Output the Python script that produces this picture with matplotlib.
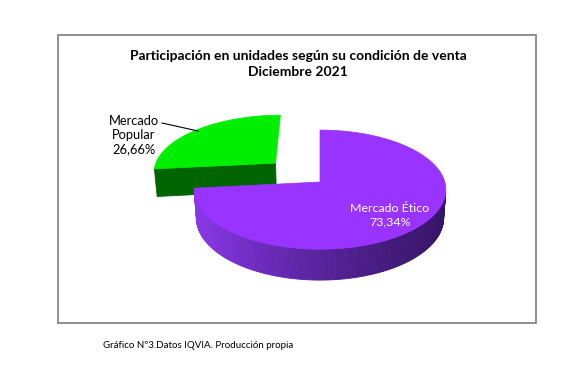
import numpy as np
import matplotlib
matplotlib.use('Agg')
import matplotlib.pyplot as plt
from matplotlib.patches import Polygon, Rectangle

plt.rcParams['font.family'] = ['Lato', 'DejaVu Sans']

# data
labels = ['Mercado\nPopular', 'Mercado Ético']
values = [26.66, 73.34]
title = 'Participación en unidades según su condición de venta\nDiciembre 2021'
footer = 'Gráfico Nº3.Datos IQVIA. Producción propia'

top_cols = ['#00EE00', '#9933FF']

# simple perspective camera for the 3D pie
elev = np.radians(28)
ce, se = np.cos(elev), np.sin(elev)
L = 6.89
F = 860.
ox, oy = 320., 182.
h = 0.26
explode = [0.5, 0.0]


def proj(X, Y, Z):
    d = ce * Y - se * Z + L
    return ox + F * X / d, oy - F * (se * Y + ce * Z) / d


cam = np.array([0., -L * ce, L * se])


def facing(p, n):
    return np.dot(n, cam - p) > 0


def side_col(i, th):
    if i == 0:
        return '#006400'
    light = np.array([0.55, 0.22, 0.93])
    dark = np.array([0.21, 0.08, 0.40])
    t = (1 - np.cos(th)) / 2
    return tuple(dark + (light - dark) * t ** 1.3)


fig = plt.figure(figsize=(5.84, 3.71), dpi=100)
ax = fig.add_axes([0, 0, 1, 1])
ax.set_xlim(0, 584)
ax.set_ylim(371, 0)
ax.axis('off')

ax.add_patch(Rectangle((58, 35), 478, 288, fill=False, ec='#868686', lw=1.3))

start = 90.
angs = []
for v in values:
    angs.append((start, start + v / sum(values) * 360))
    start += v / sum(values) * 360

for i, (a1, a2) in enumerate(angs):
    t1, t2 = np.radians(a1), np.radians(a2)
    mid = (t1 + t2) / 2
    sx, sy = explode[i] * np.cos(mid), explode[i] * np.sin(mid)
    th = np.linspace(t1, t2, 200)
    rx = sx + np.cos(th)
    ry = sy + np.sin(th)

    # curved side
    for k in range(len(th) - 1):
        tm = (th[k] + th[k + 1]) / 2
        p = np.array([sx + np.cos(tm), sy + np.sin(tm), 0.])
        n = np.array([np.cos(tm), np.sin(tm), 0.])
        if not facing(p, n):
            continue
        pts = [proj(rx[k], ry[k], 0), proj(rx[k + 1], ry[k + 1], 0),
               proj(rx[k + 1], ry[k + 1], -h), proj(rx[k], ry[k], -h)]
        col = side_col(i, tm)
        ax.add_patch(Polygon(pts, closed=True, fc=col, ec=col, lw=0.6))

    # front radial face (end edge only)
    tt, na = t2, t2 + np.pi / 2
    p = np.array([sx + 0.5 * np.cos(tt), sy + 0.5 * np.sin(tt), 0.])
    n = np.array([np.cos(na), np.sin(na), 0.])
    if facing(p, n):
        ex, ey = sx + np.cos(tt), sy + np.sin(tt)
        pts = [proj(sx, sy, 0), proj(ex, ey, 0), proj(ex, ey, -h), proj(sx, sy, -h)]
        col = side_col(i, tt)
        ax.add_patch(Polygon(pts, closed=True, fc=col, ec=col, lw=0.6))

    # top face
    pts = [proj(sx, sy, 0)] + [proj(x, y, 0) for x, y in zip(rx, ry)]
    ax.add_patch(Polygon(pts, closed=True, fc=top_cols[i], ec=top_cols[i], lw=0.5))

pct = [f'{v:.2f}%'.replace('.', ',') for v in values]

ax.text(298, 64, title, ha='center', va='center', fontsize=10,
        fontweight='bold', linespacing=1.3)
ax.text(134, 135, labels[0] + '\n' + pct[0], ha='center', va='center',
        fontsize=9.3, linespacing=1.2)
ax.plot([162, 198], [123, 131], color='black', lw=0.8)
ax.text(390, 215, labels[1] + '\n' + pct[1], ha='center', va='center',
        fontsize=8.9, color='white', linespacing=1.25)
ax.text(103, 346, footer, ha='left', va='center', fontsize=7.0)

fig.savefig('out.png', dpi=100)
